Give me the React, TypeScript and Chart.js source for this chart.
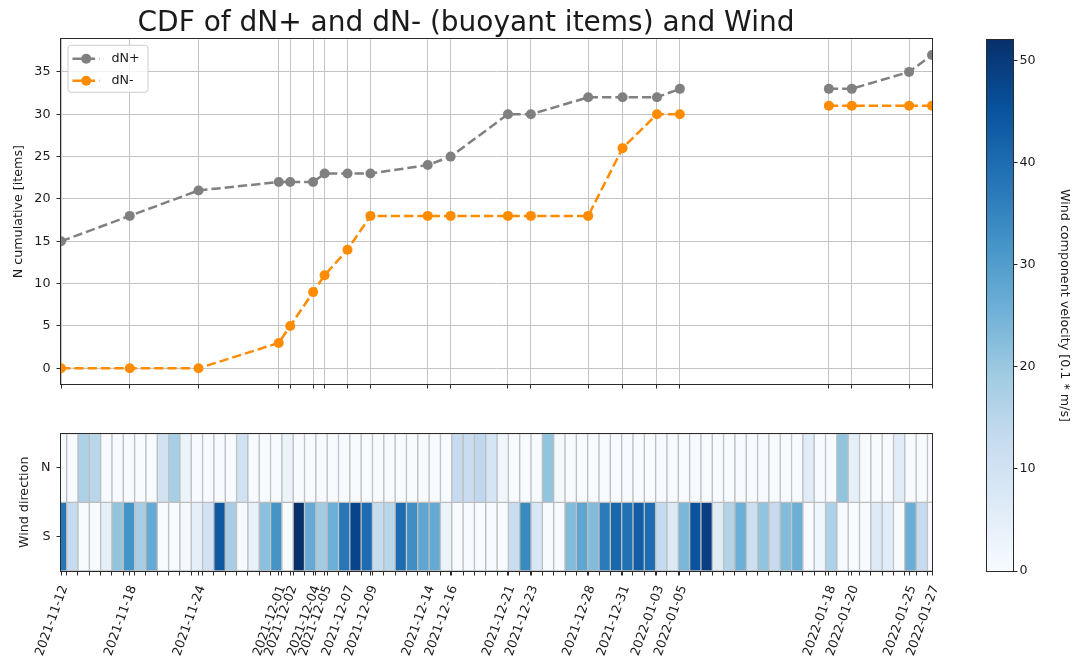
import React, { useEffect, useRef } from 'react';
import { Chart, registerables } from 'chart.js';

Chart.register(...registerables);

// Sampling dates and cumulative counts of buoyant items
const sampleDates = [
  '2021-11-12', '2021-11-18', '2021-11-24', '2021-12-01', '2021-12-02', '2021-12-04',
  '2021-12-05', '2021-12-07', '2021-12-09', '2021-12-14', '2021-12-16', '2021-12-21',
  '2021-12-23', '2021-12-28', '2021-12-31', '2022-01-03', '2022-01-05', '2022-01-18',
  '2022-01-20', '2022-01-25', '2022-01-27',
];
const dNplus = [15, 18, 21, 22, 22, 22, 23, 23, 23, 24, 25, 30, 30, 32, 32, 32, 33, 33, 33, 35, 37];
const dNminus = [0, 0, 0, 3, 5, 9, 11, 14, 18, 18, 18, 18, 18, 18, 26, 30, 30, 31, 31, 31, 31];
// The dashed lines are interrupted after these samples
const seriesBreaks = ['2022-01-05'];
const cumulativeTicks = [0, 5, 10, 15, 20, 25, 30, 35];

// Daily wind components (0.1 m/s), one cell per day
const windN = [
  0, 0, 17, 15, 0, 0, 0, 0, 0, 10, 18, 3, 0, 0, 0, 0, 10, 0, 0, 0,
  3, 0, 0, 0, 0, 0, 0, 0, 0, 0, 0, 0, 0, 0, 0, 13, 12, 14, 9, 2,
  0, 0, 0, 21, 1, 0, 0, 0, 0, 0, 0, 0, 0, 0, 0, 0, 0, 0, 0, 0,
  0, 0, 0, 0, 0, 0, 6, 0, 0, 21, 5, 0, 0, 0, 6, 0, 0, 0,
];
const windS = [
  38, 13, 0, 0, 5, 21, 32, 18, 27, 0, 0, 1, 5, 10, 44, 18, 0, 4, 22, 32,
  0, 52, 27, 19, 26, 38, 48, 40, 13, 15, 40, 33, 28, 27, 3, 0, 0, 0, 0, 0,
  12, 34, 8, 0, 0, 23, 28, 23, 37, 41, 39, 43, 40, 13, 7, 24, 45, 49, 6, 16,
  26, 11, 21, 13, 23, 26, 0, 2, 17, 0, 0, 0, 7, 6, 0, 26, 13, 0,
];
const windRows = ['S', 'N'];
const velocityTicks = [0, 10, 20, 30, 40, 50];
const VMAX = 52;

// Visible window of the daily cell index axis
const CELL_MIN = 0;
const CELL_MAX = 76.9;

const FONT = 'DejaVu Sans';
const INK = '#1a1a1a';
const SPINE = '#2b2b2b';
const GRID = '#c4c4c4';
const EDGE = '#bdbdbd';
const TICK_LEN = 4.5;

const BLUES = [
  [247, 251, 255], [222, 235, 247], [198, 219, 239], [158, 202, 225], [107, 174, 214],
  [66, 146, 198], [33, 113, 181], [8, 81, 156], [8, 48, 107],
];
function blues(v: number) {
  const t = Math.min(1, Math.max(0, v / VMAX)) * 8;
  const i = Math.min(7, Math.floor(t));
  const f = t - i;
  const c = BLUES[i].map((a, j) => Math.round(a + (BLUES[i + 1][j] - a) * f));
  return `rgb(${c.join(',')})`;
}

const DAY = 86400000;
const t0 = Date.parse(sampleDates[0]);
const dayOf = (d: string) => Math.round((Date.parse(d) - t0) / DAY);
const SPAN = dayOf(sampleDates[sampleDates.length - 1]);
const dateLabel = (v: number) => sampleDates.find((d) => dayOf(d) === v) ?? '';

const FONT_SIZE = 12.7;
const font = { family: FONT, size: FONT_SIZE };

const framePlugin = {
  id: 'frame',
  afterDatasetsDraw(chart: any) {
    const { ctx, chartArea: a } = chart;
    ctx.save();
    ctx.strokeStyle = SPINE;
    ctx.lineWidth = 1;
    ctx.strokeRect(Math.round(a.left) - 0.5, Math.round(a.top) - 0.5, Math.round(a.right - a.left) + 1, Math.round(a.bottom - a.top) + 1);
    ctx.restore();
  },
};

const legendPlugin = {
  id: 'boxLegend',
  afterDatasetsDraw(chart: any) {
    const { ctx, chartArea: a } = chart;
    const x0 = a.left + 6.5;
    const y0 = a.top + 5.5;
    const w = 80;
    const h = 47;
    ctx.save();
    ctx.beginPath();
    ctx.roundRect(x0 + 0.5, y0 + 0.5, w, h, 3);
    ctx.fillStyle = 'rgba(255,255,255,0.8)';
    ctx.fill();
    ctx.strokeStyle = '#cccccc';
    ctx.lineWidth = 1;
    ctx.stroke();
    chart.data.datasets.forEach((ds: any, i: number) => {
      const y = y0 + 14 + i * 22;
      ctx.setLineDash(ds.borderDash);
      ctx.strokeStyle = ds.borderColor;
      ctx.lineWidth = ds.borderWidth;
      ctx.beginPath();
      ctx.moveTo(x0 + 5, y);
      ctx.lineTo(x0 + 32, y);
      ctx.stroke();
      ctx.setLineDash([]);
      ctx.fillStyle = ds.borderColor;
      ctx.beginPath();
      ctx.arc(x0 + 18.7, y, ds.pointRadius, 0, Math.PI * 2);
      ctx.fill();
      ctx.fillStyle = INK;
      ctx.font = `${FONT_SIZE}px "${FONT}"`;
      ctx.textBaseline = 'middle';
      ctx.textAlign = 'left';
      ctx.fillText(ds.label, x0 + 44, y);
    });
    ctx.restore();
  },
};

function lineSet(label: string, values: number[], color: string) {
  return {
    label,
    data: sampleDates.map((d, i) => ({ x: dayOf(d), y: values[i] })),
    borderColor: color,
    backgroundColor: color,
    borderWidth: 2.5,
    borderDash: [9.3, 4],
    pointRadius: 5,
    pointHoverRadius: 5,
    pointBorderWidth: 0,
    pointBackgroundColor: color,
    clip: 0,
    segment: {
      borderColor: (c: any) =>
        seriesBreaks.includes(sampleDates[c.p0DataIndex]) ? 'rgba(0,0,0,0)' : undefined,
    },
  };
}

export default function App() {
  const topRef = useRef<HTMLCanvasElement>(null);
  const heatRef = useRef<HTMLCanvasElement>(null);
  const barRef = useRef<HTMLCanvasElement>(null);

  useEffect(() => {
    Chart.defaults.font.family = FONT;
    Chart.defaults.color = INK;

    const top = new Chart(topRef.current!, {
      type: 'line',
      data: {
        datasets: [lineSet('dN+', dNplus, '#808080'), lineSet('dN-', dNminus, '#ff8c00')] as any,
      },
      options: {
        animation: false,
        responsive: false,
        devicePixelRatio: 1,
        events: [],
        layout: { padding: { left: 0, right: 60, top: 0, bottom: 0 } },
        plugins: {
          legend: { display: false },
          tooltip: { enabled: false },
          title: {
            display: true,
            text: 'CDF of dN+ and dN- (buoyant items) and Wind',
            color: INK,
            font: { family: FONT, size: 28, weight: 'normal', lineHeight: 1 },
            padding: { top: 9.5, bottom: 1.8 },
          },
        },
        scales: {
          x: {
            type: 'linear',
            min: 0,
            max: SPAN,
            afterBuildTicks: (s: any) => {
              s.ticks = sampleDates.map((d) => ({ value: dayOf(d) }));
            },
            ticks: { display: false },
            grid: { color: GRID, lineWidth: 1, drawTicks: true, tickLength: TICK_LEN, tickColor: SPINE, tickWidth: 1 },
            border: { display: false },
            afterFit: (s: any) => {
              s.height = 16;
            },
          },
          y: {
            type: 'linear',
            min: -1.85,
            max: 38.85,
            afterBuildTicks: (s: any) => {
              s.ticks = cumulativeTicks.map((v) => ({ value: v }));
            },
            ticks: { font, color: INK, padding: 6 },
            grid: { color: GRID, lineWidth: 1, drawTicks: true, tickLength: TICK_LEN, tickColor: SPINE, tickWidth: 1 },
            border: { display: false },
            title: { display: true, text: 'N cumulative [items]', color: INK, font, padding: { top: 11.5, bottom: 0 } },
            afterFit: (s: any) => {
              s.width = 61;
            },
          },
        },
      } as any,
      plugins: [framePlugin, legendPlugin],
    });

    const cellBoundaries = windS.slice(1).map((_, k) => ({
      value: ((k + 0.5 - CELL_MIN) / (CELL_MAX - CELL_MIN)) * SPAN,
      kind: 'minor',
    }));

    const cellSet = (label: string, values: number[], row: number) => ({
      label,
      xAxisID: 'xc',
      yAxisID: 'y',
      data: values.map((v, k) => ({ x: k, y: [row, row + 1] })),
      backgroundColor: values.map(blues),
      borderColor: EDGE,
      borderWidth: 1,
      borderSkipped: false,
      barPercentage: 1,
      categoryPercentage: 1,
      grouped: false,
      clip: 0,
    });

    const heat = new Chart(heatRef.current!, {
      type: 'bar',
      data: {
        datasets: [cellSet('N', windN, windRows.indexOf('N')), cellSet('S', windS, windRows.indexOf('S'))] as any,
      },
      options: {
        animation: false,
        responsive: false,
        devicePixelRatio: 1,
        events: [],
        layout: { padding: { left: 0, right: 60, top: 12.5, bottom: 0 } },
        plugins: { legend: { display: false }, tooltip: { enabled: false } },
        scales: {
          xc: {
            type: 'linear',
            axis: 'x',
            display: false,
            offset: false,
            grid: { offset: false },
            min: CELL_MIN,
            max: CELL_MAX,
          },
          x: {
            type: 'linear',
            position: 'bottom',
            offset: false,
            min: 0,
            max: SPAN,
            afterBuildTicks: (s: any) => {
              const major = sampleDates.map((d) => ({ value: dayOf(d), kind: 'major' }));
              s.ticks = [...major, ...cellBoundaries].sort((a, b) => a.value - b.value);
            },
            ticks: {
              autoSkip: false,
              minRotation: 70,
              maxRotation: 70,
              padding: 8,
              labelOffset: 3.5,
              font,
              color: INK,
              callback: (v: number, i: number, ticks: any[]) => (ticks[i].kind === 'minor' ? '' : dateLabel(v)),
            },
            grid: { offset: false, drawOnChartArea: false, drawTicks: true, tickLength: TICK_LEN, tickColor: SPINE, tickWidth: 1 },
            border: { display: false },
            afterFit: (s: any) => {
              s.height = 93;
            },
          },
          y: {
            type: 'linear',
            min: 0,
            max: 2,
            afterBuildTicks: (s: any) => {
              s.ticks = windRows.map((_, i) => ({ value: i + 0.5 }));
            },
            ticks: { font, color: INK, padding: 6, callback: (v: number) => windRows[Math.floor(v)] },
            grid: { drawOnChartArea: false, drawTicks: true, tickLength: TICK_LEN, tickColor: SPINE, tickWidth: 1 },
            border: { display: false },
            title: { display: true, text: 'Wind direction', color: INK, font, padding: { top: 17.5, bottom: 0 } },
            afterFit: (s: any) => {
              s.width = 61;
            },
          },
        },
      } as any,
      plugins: [framePlugin],
    });

    const bar = new Chart(barRef.current!, {
      type: 'bar',
      data: {
        labels: [''],
        datasets: [
          {
            data: [[0, VMAX]],
            backgroundColor: (c: any) => {
              const chart = c.chart;
              if (!chart.chartArea) return blues(0);
              const y = chart.scales.y;
              const g = chart.ctx.createLinearGradient(0, y.getPixelForValue(0), 0, y.getPixelForValue(VMAX));
              BLUES.forEach((rgb, i) => g.addColorStop(i / 8, `rgb(${rgb.join(',')})`));
              return g;
            },
            borderWidth: 0,
            barPercentage: 1,
            categoryPercentage: 1,
          },
        ],
      },
      options: {
        animation: false,
        responsive: false,
        devicePixelRatio: 1,
        events: [],
        layout: { padding: { left: 27, right: 0, top: 40, bottom: 93 } },
        plugins: { legend: { display: false }, tooltip: { enabled: false } },
        scales: {
          x: { display: false },
          y: {
            position: 'right',
            min: 0,
            max: VMAX,
            afterBuildTicks: (s: any) => {
              s.ticks = velocityTicks.map((v) => ({ value: v }));
            },
            ticks: { font, color: INK, padding: 2 },
            grid: { drawOnChartArea: false, drawTicks: true, tickLength: TICK_LEN, tickColor: SPINE, tickWidth: 1 },
            border: { display: false },
            title: {
              display: true,
              text: 'Wind component velocity [0.1 * m/s]',
              color: INK,
              font,
              padding: { top: 3.5, bottom: 0 },
            },
            afterFit: (s: any) => {
              s.width = 62;
            },
          },
        },
      } as any,
      plugins: [framePlugin],
    });

    return () => {
      top.destroy();
      heat.destroy();
      bar.destroy();
    };
  }, []);

  return (
    <div style={{ position: 'absolute', left: 0, top: 0, width: 1075, height: 664, background: '#fff', overflow: 'hidden' }}>
      <canvas ref={topRef} width={992} height={400} style={{ position: 'absolute', left: 0, top: 0 }} />
      <canvas ref={heatRef} width={992} height={244} style={{ position: 'absolute', left: 0, top: 420 }} />
      <canvas ref={barRef} width={115} height={664} style={{ position: 'absolute', left: 960, top: 0 }} />
    </div>
  );
}
